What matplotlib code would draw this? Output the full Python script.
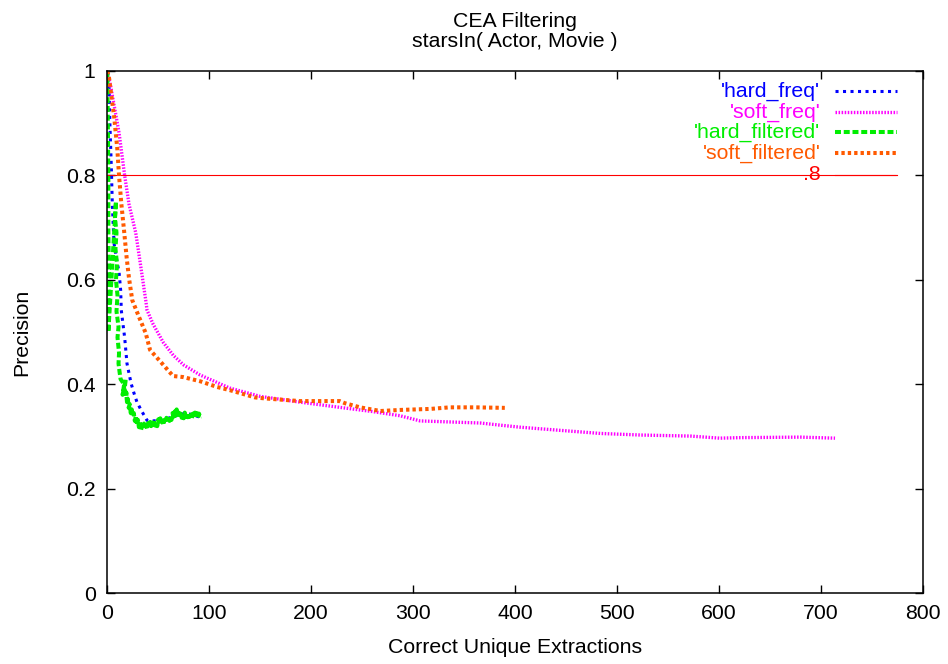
import matplotlib
matplotlib.use("Agg")
import matplotlib.pyplot as plt

plt.rcParams['font.family'] = ['Liberation Sans', 'DejaVu Sans']
plt.rcParams['lines.scale_dashes'] = False

# Precision vs. number of correct unique extractions
hard_freq_x = [0, 1.7, 2.6, 3.9, 4.9, 6.6, 9.8, 11.5, 13.1, 13.7, 15.7, 17, 19.3, 23.3,
               26.2, 29.1, 33.1, 36, 39, 43.9, 53.7, 65.5, 77.2, 85, 94]
hard_freq_y = [1.0, 0.97, 0.895, 0.818, 0.745, 0.67, 0.632, 0.615, 0.58, 0.542, 0.51, 0.49,
               0.44, 0.402, 0.383, 0.366, 0.351, 0.341, 0.331, 0.33, 0.331, 0.339, 0.345,
               0.341, 0.335]

soft_freq_x = [0, 3.3, 11.5, 17, 21.3, 27.9, 32.8, 37.7, 39, 45, 55, 65, 75, 91, 120, 150,
               189, 228, 260, 287, 307, 366, 385, 405, 444, 484, 523, 572, 601, 621, 680, 714]
soft_freq_y = [1.0, 0.971, 0.882, 0.8, 0.745, 0.69, 0.626, 0.561, 0.542, 0.515, 0.48, 0.455,
               0.437, 0.418, 0.393, 0.377, 0.366, 0.356, 0.348, 0.34, 0.33, 0.326, 0.322,
               0.318, 0.312, 0.306, 0.303, 0.301, 0.297, 0.298, 0.299, 0.297]

hard_filtered_x = [0, 0.5, 1, 1, 1.5, 1, 8.5, 7.5, 9, 8, 9.5, 8.5, 10, 9, 11, 10, 11.5, 11,
                   12, 13, 16.5, 15, 18, 17, 19.5, 18.5,
                   19.3, 20, 21, 22, 23, 24, 25, 26, 27, 28, 29, 30, 31, 32, 33, 34, 35, 36,
                   37, 38, 39, 40, 41, 42, 43, 44, 45, 46, 47, 48, 49, 50, 51, 52, 53, 54,
                   55, 56, 57, 58, 59, 60, 61, 62, 63, 64, 65, 66, 67, 68, 69, 70, 71, 72,
                   73, 74, 75, 76, 77, 78, 79, 80, 81, 82, 83, 84, 85, 86, 87, 88, 89, 90,
                   91, 92]
hard_filtered_y = [1.0, 0.9, 0.8, 0.7, 0.6, 0.5, 0.75, 0.72, 0.69, 0.66, 0.63, 0.6, 0.57,
                   0.54, 0.51, 0.49, 0.46, 0.44, 0.424, 0.41, 0.4, 0.38, 0.41, 0.39, 0.37,
                   0.385,
                   0.366, 0.375, 0.355, 0.362, 0.345, 0.352, 0.338, 0.345, 0.33, 0.34, 0.322,
                   0.332, 0.318, 0.328, 0.312, 0.32, 0.315, 0.325, 0.316, 0.322, 0.314, 0.326,
                   0.318, 0.328, 0.32, 0.33, 0.322, 0.332, 0.321, 0.328, 0.32, 0.333, 0.324,
                   0.335, 0.325, 0.33, 0.322, 0.332, 0.326, 0.336, 0.328, 0.334, 0.33, 0.337,
                   0.332, 0.345, 0.338, 0.348, 0.34, 0.352, 0.342, 0.346, 0.338, 0.344, 0.336,
                   0.342, 0.335, 0.346, 0.338, 0.344, 0.337, 0.345, 0.338, 0.342, 0.335, 0.344,
                   0.337, 0.346, 0.338, 0.345, 0.336, 0.344, 0.337, 0.338]

soft_filtered_x = [0, 1.7, 6.6, 9.8, 11.5, 13.7, 16.4, 19, 21.3, 24.5, 31.1, 37.7, 41.9, 53.7,
                   64.5, 74.3, 91, 107.7, 120, 145, 155, 189, 228, 233, 248, 268, 287, 317,
                   336, 361, 390]
soft_filtered_y = [1.0, 0.987, 0.914, 0.851, 0.8, 0.747, 0.695, 0.642, 0.603, 0.561, 0.529,
                   0.498, 0.466, 0.44, 0.416, 0.414, 0.406, 0.395, 0.389, 0.375, 0.373, 0.368,
                   0.368, 0.364, 0.356, 0.349, 0.351, 0.353, 0.356, 0.356, 0.355]

threshold = 0.8
threshold_x_end = 774

series = [
    ("'hard_freq'", hard_freq_x, hard_freq_y, '#0000ff', 2.2, (0, (2.2, 3.2))),
    ("'soft_freq'", soft_freq_x, soft_freq_y, '#ff00ff', 2.4, (0, (1.1, 1.1))),
    ("'hard_filtered'", hard_filtered_x, hard_filtered_y, '#00ee00', 2.9, (0, (4.3, 2.0))),
    ("'soft_filtered'", soft_filtered_x, soft_filtered_y, '#ff5a00', 2.9, (0, (2.4, 2.2))),
]

fig = plt.figure(figsize=(9.48, 6.64), dpi=100)
ax = fig.add_axes([0.1132, 0.1065, 0.8601, 0.7866])

ax.hlines(threshold, 0, threshold_x_end, colors='#ff0000', linewidth=0.8)
for label, xs, ys, color, lw, ls in series:
    ax.plot(xs, ys, color=color, linewidth=lw, linestyle=ls, solid_capstyle='butt',
            dash_capstyle='butt')

ax.set_xlim(0, 800)
ax.set_ylim(0, 1)
ax.set_xticks(range(0, 801, 100))
ax.set_yticks([0, 0.2, 0.4, 0.6, 0.8, 1.0])
ax.set_yticklabels(['0', '0.2', '0.4', '0.6', '0.8', '1'])
ax.tick_params(direction='in', top=True, right=True, length=5.8, width=1.0,
               labelsize=15.3, color='black')
ax.tick_params(axis='y', pad=8.5)
ax.tick_params(axis='x', pad=7.5)
for sp in ax.spines.values():
    sp.set_linewidth(1.1)

ax.set_xlabel('Correct Unique Extractions', fontsize=15.3, labelpad=11)
ax.set_ylabel('Precision', fontsize=15.3, labelpad=25)

fig.text(0.543, 0.968, 'CEA Filtering', ha='center', va='center', fontsize=15.3)
fig.text(0.543, 0.938, 'starsIn( Actor, Movie )', ha='center', va='center', fontsize=15.3)

# key in the upper right corner: label text, then a line sample
key_y = [0.9617, 0.9215, 0.8832, 0.8430]
text_right = 0.8745
sample_x = (0.8920, 0.9685)
for (label, xs, ys, color, lw, ls), ky in zip(series, key_y):
    ax.text(text_right, ky, label, color=color, fontsize=15.3, ha='right', va='center',
            transform=ax.transAxes)
    ax.plot(sample_x, [ky, ky], color=color, linewidth=lw, linestyle=ls,
            transform=ax.transAxes, dash_capstyle='butt')
ax.text(text_right, 0.8009, '.8', color='#ff0000', fontsize=15.3, ha='right', va='center',
        transform=ax.transAxes)
ax.plot(sample_x, [0.8009, 0.8009], color='#ff0000', linewidth=0.8, transform=ax.transAxes)

fig.savefig('out.png', dpi=100)
